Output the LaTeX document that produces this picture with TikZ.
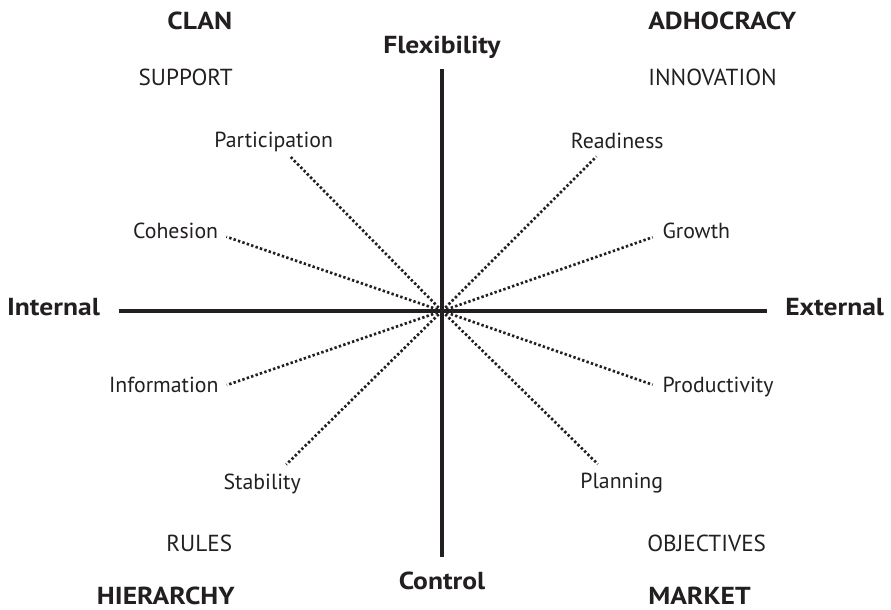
\documentclass[tikz,border=0pt]{standalone}
\usepackage{fontspec}
\setmainfont{PT Sans}
\newfontfamily\widebold{PT Sans}[FakeStretch=1.12]
\usepackage{tikz}
\usetikzlibrary{positioning,calc}

\definecolor{ink}{RGB}{35,31,32}

\tikzset{
	axis/.style={draw=ink,line width=0.1cm},
	spoke/.style={draw=ink,line width=1.9pt,dash pattern=on 1.7pt off 1.6pt},
	txt/.style={text=ink,inner sep=0pt,text depth=0pt},
	culture/.style={txt,font=\widebold\bfseries\fontsize{17.5}{20}\selectfont},
	dimension/.style={txt,font=\widebold\bfseries\fontsize{17.5}{20}\selectfont},
	value/.style={txt,font=\fontsize{16.5}{20}\selectfont},
	criterion/.style={txt,font=\fontsize{15.5}{18}\selectfont}
}

\begin{document}
\begin{tikzpicture}[node distance=0.2cm]
	\useasboundingbox (-11.05,-7.475) rectangle (11.225,7.775);
	
	% axes
	\coordinate (o) at (0,0);
	\coordinate (top) at (0,6.05);
	\coordinate (bot) at (0,-6.15);
	\coordinate (lft) at (-8.075,0);
	\coordinate (rgt) at (8.125,0);
	\draw[axis] (lft) -- (rgt);
	\draw[axis] (top) -- (bot);
	
	\node[dimension] (flex) [above=0.375 of top] {Flexibility};
	\node[dimension] (ctrl) [below=0.365 of bot] {Control};
	\node[dimension] (int) [left=0.47 of lft, yshift=0.1cm] {Internal};
	\node[dimension] (ext) [right=0.45 of rgt, yshift=0.1cm] {External};
	
	% ends of the dotted spokes
	\coordinate (pa) at (134.5:5.43);
	\coordinate (co) at (161:5.7);
	\coordinate (re) at (45:5.46);
	\coordinate (gr) at (19.3:5.58);
	\coordinate (in) at (199:5.69);
	\coordinate (st) at (224.6:5.47);
	\coordinate (pr) at (-19.3:5.58);
	\coordinate (pl) at (-44.5:5.46);
	\foreach \e in {pa,co,re,gr,in,st,pr,pl}
		\draw[spoke] (o) -- (\e);
	
	\node[criterion] (participation) [above=0.2 of pa, xshift=-0.4cm] {Participation};
	\node[criterion] (readiness) [above=0.2 of re, xshift=0.52cm] {Readiness};
	\node[criterion] (cohesion) [left=0.2 of co, yshift=0.15cm] {Cohesion};
	\node[criterion] (growth) [right=0.24 of gr, yshift=0.15cm] {Growth};
	\node[criterion] (information) [left=0.2 of in] {Information};
	\node[criterion] (productivity) [right=0.24 of pr] {Productivity};
	\node[criterion] (stability) [below=0.22 of st, xshift=-0.6cm] {Stability};
	\node[criterion] (planning) [below=0.22 of pl, xshift=0.6cm] {Planning};
	
	% the four quadrants
	\node[culture, anchor=base east] (clan) at (-5.24,7.025) {CLAN};
	\node[value, anchor=base east] (support) at (-5.225,5.625) {SUPPORT};
	\node[culture, anchor=base west] (adhocracy) at (5.15,7.025) {ADHOCRACY};
	\node[value, anchor=base west] (innovation) at (5.15,5.625) {INNOVATION};
	\node[value, anchor=base east] (rules) at (-5.24,-6.02) {RULES};
	\node[culture, anchor=base east] (hierarchy) at (-5.175,-7.33) {HIERARCHY};
	\node[value, anchor=base west] (objectives) at (5.125,-6.02) {OBJECTIVES};
	\node[culture, anchor=base west] (market) at (5.15,-7.33) {MARKET};
\end{tikzpicture}
\end{document}
